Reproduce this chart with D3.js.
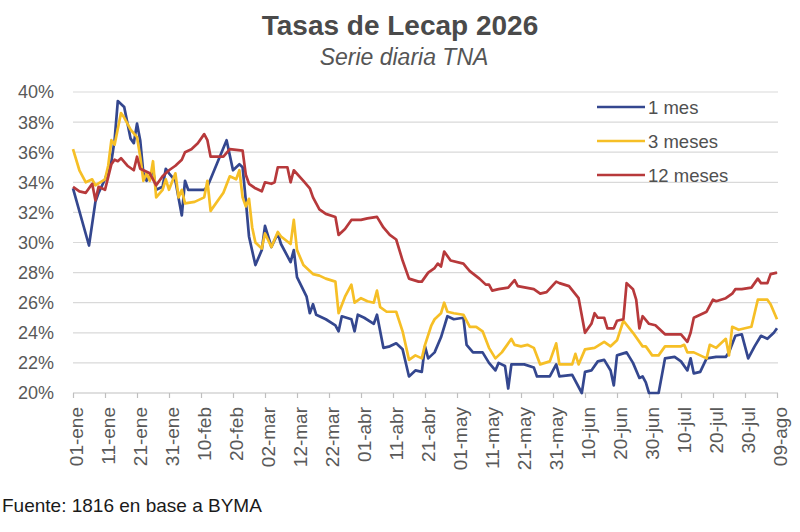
<!DOCTYPE html>
<html lang="es">

<head>
    <meta charset="UTF-8">
    <title>Tasas de Lecap 2026</title>
    <style>
        body,
        html {
            margin: 0;
            padding: 0;
            background: #fff;
        }

        svg text {
            font-family: "Liberation Sans", Arial, sans-serif;
        }
    </style>
</head>

<body>
    <svg id="svg" width="800" height="532"></svg>

    <script src="https://d3js.org/d3.v7.min.js"></script>
    <script>
        // Fechas (mes-día, 2025) y TNA en %
        const fechas1m = ["01-01", "01-06", "01-08", "01-09", "01-11", "01-13", "01-14", "01-15", "01-17", "01-19", "01-20", "01-21", "01-22", "01-23", "01-24", "01-26", "01-27", "01-29", "01-30", "01-31", "02-02", "02-04", "02-05", "02-06", "02-11", "02-12", "02-18", "02-20", "02-22", "02-23", "02-24", "02-25", "02-27", "03-01", "03-02", "03-04", "03-06", "03-07", "03-10", "03-11", "03-12", "03-15", "03-16", "03-17", "03-18", "03-21", "03-24", "03-25", "03-26", "03-29", "03-30", "03-31", "04-02", "04-05", "04-06", "04-08", "04-10", "04-12", "04-14", "04-16", "04-18", "04-20", "04-21", "04-22", "04-24", "04-26", "04-28", "04-30", "05-03", "05-04", "05-06", "05-09", "05-11", "05-13", "05-14", "05-16", "05-17", "05-18", "05-22", "05-25", "05-26", "05-30", "06-01", "06-02", "06-06", "06-09", "06-10", "06-12", "06-14", "06-16", "06-18", "06-19", "06-20", "06-23", "06-25", "06-27", "06-28", "06-29", "06-30", "07-03", "07-05", "07-08", "07-10", "07-12", "07-13", "07-14", "07-16", "07-18", "07-21", "07-24", "07-25", "07-27", "07-29", "07-31", "08-02", "08-04", "08-06", "08-08", "08-09"];
        const tna1m = [33.6, 29.8, 32.7, 33.3, 34.2, 35.4, 36.8, 39.4, 39.0, 36.9, 36.6, 37.9, 36.8, 34.6, 34.1, 34.8, 33.5, 33.7, 34.9, 34.6, 34.1, 31.8, 34.1, 33.5, 33.5, 33.7, 36.8, 34.8, 35.2, 35.0, 32.8, 30.4, 28.5, 29.5, 31.1, 29.7, 30.6, 29.9, 28.7, 29.5, 27.7, 26.4, 25.3, 25.9, 25.2, 24.9, 24.5, 24.1, 25.1, 24.9, 24.1, 25.2, 25.0, 24.6, 25.2, 23.0, 23.1, 23.3, 22.9, 21.1, 21.5, 21.4, 23.1, 22.3, 22.7, 23.7, 25.1, 24.9, 25.0, 23.2, 22.7, 22.7, 22.0, 21.5, 22.0, 21.8, 20.3, 21.9, 21.9, 21.7, 21.1, 21.1, 21.9, 21.1, 21.2, 20.0, 21.4, 21.5, 22.1, 22.2, 21.5, 20.5, 22.5, 22.7, 22.0, 21.0, 21.1, 20.7, 20.0, 20.0, 22.3, 22.4, 22.1, 21.5, 22.3, 21.3, 21.4, 22.3, 22.4, 22.4, 22.7, 23.8, 23.9, 22.3, 23.1, 23.8, 23.6, 24.0, 24.3];

        const fechas3m = ["01-01", "01-03", "01-05", "01-07", "01-08", "01-11", "01-12", "01-13", "01-14", "01-16", "01-17", "01-19", "01-21", "01-22", "01-23", "01-24", "01-25", "01-26", "01-27", "01-29", "01-30", "01-31", "02-02", "02-03", "02-04", "02-05", "02-08", "02-11", "02-12", "02-13", "02-17", "02-19", "02-21", "02-22", "02-23", "02-24", "02-25", "02-26", "02-27", "03-01", "03-02", "03-04", "03-06", "03-07", "03-10", "03-11", "03-12", "03-14", "03-17", "03-19", "03-21", "03-24", "03-25", "03-27", "03-29", "03-30", "04-01", "04-03", "04-05", "04-06", "04-07", "04-09", "04-12", "04-14", "04-16", "04-18", "04-20", "04-21", "04-23", "04-24", "04-26", "04-27", "04-28", "04-30", "05-03", "05-05", "05-07", "05-09", "05-11", "05-13", "05-15", "05-18", "05-19", "05-21", "05-23", "05-25", "05-27", "05-30", "06-01", "06-02", "06-06", "06-07", "06-08", "06-10", "06-13", "06-16", "06-18", "06-20", "06-22", "06-25", "06-28", "06-29", "07-01", "07-03", "07-05", "07-10", "07-11", "07-12", "07-14", "07-18", "07-19", "07-21", "07-24", "07-25", "07-26", "07-28", "08-01", "08-03", "08-06", "08-07", "08-09"];
        const tna3m = [36.2, 34.8, 34.0, 34.2, 33.8, 34.2, 35.1, 36.8, 36.5, 38.6, 38.3, 37.5, 37.0, 35.7, 34.1, 34.6, 34.1, 35.4, 33.0, 33.5, 34.2, 33.5, 34.6, 33.0, 33.5, 32.6, 32.7, 33.0, 34.1, 32.1, 33.3, 34.4, 34.2, 34.8, 33.0, 32.4, 32.9, 31.0, 30.0, 29.6, 30.6, 29.7, 30.7, 30.4, 29.9, 31.5, 29.5, 28.5, 27.9, 27.8, 27.6, 27.4, 25.3, 26.4, 27.2, 26.0, 26.3, 26.1, 26.0, 26.8, 25.7, 25.4, 25.4, 24.1, 22.2, 22.5, 22.3, 23.2, 24.5, 24.9, 25.3, 26.0, 25.4, 25.3, 25.2, 24.4, 24.4, 24.1, 23.0, 22.3, 22.7, 23.6, 23.2, 23.1, 23.2, 23.0, 21.9, 22.1, 23.3, 21.9, 21.9, 22.6, 21.9, 22.9, 23.0, 23.4, 23.1, 23.5, 24.8, 24.0, 23.1, 23.1, 22.5, 22.5, 23.1, 23.1, 23.2, 22.7, 22.7, 22.3, 23.2, 23.0, 23.6, 22.5, 24.4, 24.2, 24.4, 26.2, 26.2, 25.9, 24.9];

        const fechas12m = ["01-01", "01-03", "01-05", "01-07", "01-08", "01-09", "01-10", "01-11", "01-13", "01-14", "01-15", "01-16", "01-18", "01-20", "01-21", "01-22", "01-25", "01-27", "01-29", "01-31", "02-02", "02-04", "02-05", "02-07", "02-09", "02-11", "02-12", "02-13", "02-17", "02-19", "02-23", "02-24", "02-25", "02-27", "03-01", "03-02", "03-04", "03-05", "03-06", "03-09", "03-10", "03-11", "03-14", "03-16", "03-17", "03-19", "03-21", "03-24", "03-25", "03-27", "03-29", "04-01", "04-03", "04-06", "04-08", "04-10", "04-12", "04-14", "04-16", "04-19", "04-20", "04-22", "04-24", "04-25", "04-26", "04-27", "04-29", "05-03", "05-05", "05-08", "05-10", "05-11", "05-12", "05-14", "05-17", "05-19", "05-20", "05-25", "05-27", "05-29", "06-01", "06-02", "06-05", "06-08", "06-10", "06-12", "06-13", "06-14", "06-16", "06-17", "06-19", "06-20", "06-22", "06-23", "06-25", "06-26", "06-27", "06-28", "06-30", "07-02", "07-03", "07-05", "07-10", "07-12", "07-13", "07-14", "07-16", "07-18", "07-20", "07-21", "07-24", "07-26", "07-27", "07-29", "08-01", "08-03", "08-04", "08-06", "08-07", "08-09"];
        const tna12m = [33.7, 33.4, 33.3, 33.9, 32.8, 33.7, 33.6, 33.5, 35.2, 35.5, 35.4, 35.6, 35.1, 34.8, 35.7, 34.9, 34.6, 33.8, 34.4, 34.8, 35.1, 35.5, 36.0, 36.2, 36.6, 37.2, 36.8, 35.7, 35.7, 36.2, 36.1, 34.5, 33.9, 33.6, 33.4, 34.0, 33.9, 34.0, 35.0, 35.0, 34.0, 34.8, 34.1, 33.6, 33.0, 32.2, 31.9, 31.7, 30.5, 30.9, 31.5, 31.5, 31.6, 31.7, 31.0, 30.5, 30.2, 28.8, 27.6, 27.4, 27.4, 28.0, 28.3, 28.6, 28.4, 29.4, 28.8, 28.6, 28.1, 27.6, 27.2, 27.2, 26.8, 26.9, 27.0, 27.5, 27.1, 26.9, 26.6, 26.7, 27.4, 27.3, 27.1, 26.3, 24.0, 24.6, 25.3, 25.0, 25.0, 24.3, 24.3, 24.8, 24.9, 27.3, 26.9, 26.2, 24.3, 25.1, 24.6, 24.5, 24.3, 23.9, 23.9, 23.4, 24.0, 25.0, 25.2, 25.4, 26.2, 26.1, 26.3, 26.6, 26.9, 26.9, 27.0, 27.6, 27.3, 27.3, 27.9, 28.0];

        const nombres = ["1 mes", "3 meses", "12 meses"];
        const colores = ["#34478f", "#f6bf26", "#b7393b"];

        const tickFechas = ["01-01", "01-11", "01-21", "01-31", "02-10", "02-20", "03-02", "03-12", "03-22", "04-01", "04-11", "04-21", "05-01", "05-11", "05-21", "05-31", "06-10", "06-20", "06-30", "07-10", "07-20", "07-30", "08-09"];
        const tickValoresY = [20, 22, 24, 26, 28, 30, 32, 34, 36, 38, 40];

        const parse = s => d3.timeParse("%Y-%m-%d")("2025-" + s);

        const es = d3.timeFormatLocale({
            dateTime: "%x, %X", date: "%d/%m/%Y", time: "%H:%M:%S", periods: ["AM", "PM"],
            days: ["domingo", "lunes", "martes", "miércoles", "jueves", "viernes", "sábado"],
            shortDays: ["dom", "lun", "mar", "mié", "jue", "vie", "sáb"],
            months: ["enero", "febrero", "marzo", "abril", "mayo", "junio", "julio", "agosto", "septiembre", "octubre", "noviembre", "diciembre"],
            shortMonths: ["ene", "feb", "mar", "abr", "may", "jun", "jul", "ago", "sep", "oct", "nov", "dic"]
        });

        const series = [
            [fechas1m, tna1m],
            [fechas3m, tna3m],
            [fechas12m, tna12m]
        ].map(([f, v], i) => ({
            nombre: nombres[i],
            color: colores[i],
            valores: f.map((d, j) => ({ fecha: parse(d), tna: v[j] }))
        }));

        const margin = { top: 92, right: 22, bottom: 139, left: 73 };
        const width = 800 - margin.left - margin.right;
        const height = 532 - margin.top - margin.bottom;

        const svg = d3.select('#svg');

        const x = d3.scaleTime()
            .domain([parse("01-01"), parse("08-09")])
            .range([margin.left, margin.left + 704]);

        const y = d3.scaleLinear()
            .domain([20, 40])
            .range([margin.top + height, margin.top]);

        // Grilla horizontal
        svg.append('g')
            .selectAll('line')
            .data(tickValoresY.slice(1))
            .join('line')
            .attr('x1', margin.left)
            .attr('x2', margin.left + width)
            .attr('y1', d => y(d))
            .attr('y2', d => y(d))
            .attr('stroke', '#d9d9d9')
            .attr('stroke-width', 1.2);

        // Eje Y
        svg.append('g')
            .selectAll('text')
            .data(tickValoresY)
            .join('text')
            .attr('x', 54)
            .attr('y', d => y(d))
            .attr('dy', '0.36em')
            .attr('text-anchor', 'end')
            .attr('font-size', 18)
            .attr('fill', '#595959')
            .text(d => d + '%');

        // Eje X
        const xAxis = d3.axisBottom(x)
            .tickValues(tickFechas.map(parse))
            .tickSize(5)
            .tickSizeOuter(0)
            .tickFormat(es.format("%d-%b"));

        const gx = svg.append('g')
            .attr('transform', `translate(0, ${margin.top + height})`)
            .call(xAxis);

        gx.select('.domain')
            .attr('stroke', '#bfbfbf')
            .attr('stroke-width', 1.2)
            .attr('d', `M${margin.left},0H${margin.left + width}`);
        gx.selectAll('.tick line').attr('stroke', '#bfbfbf').attr('stroke-width', 1.2);
        gx.selectAll('.tick text')
            .attr('transform', 'rotate(-90)')
            .attr('x', -14)
            .attr('y', 0)
            .attr('dy', '0.5em')
            .attr('text-anchor', 'end')
            .attr('font-size', 19)
            .attr('font-family', '"Liberation Sans", Arial, sans-serif')
            .attr('fill', '#595959');

        // Líneas
        const line = d3.line()
            .x(d => x(d.fecha))
            .y(d => y(d.tna));

        svg.append('g')
            .selectAll('path')
            .data(series)
            .join('path')
            .attr('fill', 'none')
            .attr('stroke', d => d.color)
            .attr('stroke-width', 2.7)
            .attr('stroke-linejoin', 'round')
            .attr('d', d => line(d.valores));

        // Leyenda
        const legend = svg.append('g')
            .selectAll('g')
            .data(series)
            .join('g')
            .attr('transform', (d, i) => `translate(597, ${107 + i * 34})`);

        legend.append('line')
            .attr('x1', 0)
            .attr('x2', 48)
            .attr('stroke', d => d.color)
            .attr('stroke-width', 2.7);

        legend.append('text')
            .attr('x', 51)
            .attr('dy', '0.36em')
            .attr('font-size', 18.5)
            .attr('fill', '#505050')
            .text(d => d.nombre);

        // Títulos
        svg.append('text')
            .attr('x', 400)
            .attr('y', 35)
            .attr('text-anchor', 'middle')
            .attr('font-size', 28)
            .attr('font-weight', 'bold')
            .attr('fill', '#4a4a4a')
            .text('Tasas de Lecap 2026');

        svg.append('text')
            .attr('x', 404)
            .attr('y', 65)
            .attr('text-anchor', 'middle')
            .attr('font-size', 23)
            .attr('font-style', 'italic')
            .attr('fill', '#555')
            .text('Serie diaria TNA');

        svg.append('text')
            .attr('x', 2)
            .attr('y', 512)
            .attr('font-size', 19)
            .attr('fill', '#1a1a1a')
            .text('Fuente: 1816 en base a BYMA');
    </script>
</body>

</html>
